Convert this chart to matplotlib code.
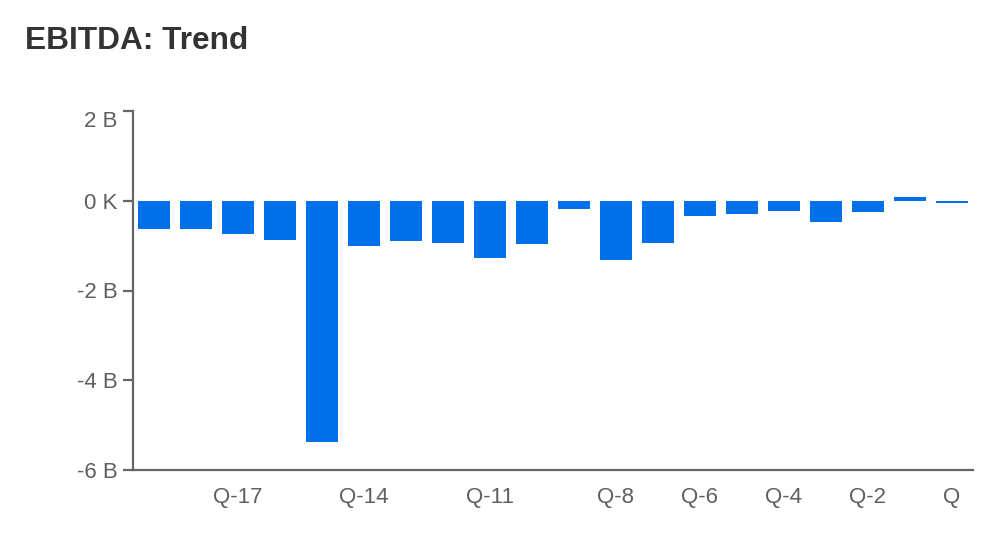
"""EBITDA trend: quarterly bar chart."""

import matplotlib
matplotlib.use("Agg")
import matplotlib.pyplot as plt
from matplotlib.ticker import FuncFormatter

# quarters, oldest first (Q-19 ... Q)
quarters = [f"Q-{n}" for n in range(19, 0, -1)] + ["Q"]
# EBITDA in billions
ebitda_b = [-0.63, -0.62, -0.75, -0.88, -5.38, -1.00, -0.89, -0.94, -1.27, -0.97,
            -0.19, -1.32, -0.95, -0.34, -0.30, -0.22, -0.47, -0.26, 0.08, -0.05]
shown_labels = ["Q-17", "Q-14", "Q-11", "Q-8", "Q-6", "Q-4", "Q-2", "Q"]
y_ticks_b = [-6, -4, -2, 0, 2]

BAR = "#0070e8"
AXIS = "#666666"
TEXT = "#5f5f5f"

plt.rcParams["font.family"] = ["Liberation Sans", "DejaVu Sans"]

fig = plt.figure(figsize=(10.03, 5.45), dpi=100)
ax = fig.add_axes([133 / 1003, 1 - 470 / 545, (973 - 133) / 1003, (470 - 111) / 545])

x = list(range(len(quarters)))
values = [v * 1e9 for v in ebitda_b]
ax.bar(x, values, width=0.76, color=BAR, zorder=2)

ax.set_xlim(-0.5, len(quarters) - 0.5)
ax.set_ylim(-6e9, 2e9)
ax.set_yticks([t * 1e9 for t in y_ticks_b])


def fmt(v, _pos):
    if v == 0:
        return "0 K"
    return f"{v / 1e9:.0f} B"


ax.yaxis.set_major_formatter(FuncFormatter(fmt))
ax.set_xticks([quarters.index(q) for q in shown_labels])
ax.set_xticklabels(shown_labels)

for side in ("top", "right"):
    ax.spines[side].set_visible(False)
for side in ("left", "bottom"):
    ax.spines[side].set_color(AXIS)
    ax.spines[side].set_linewidth(1.6)

ax.tick_params(axis="y", length=7, width=1.6, color=AXIS, pad=4,
               labelsize=16, labelcolor=TEXT)
ax.tick_params(axis="x", length=0, pad=12, labelsize=16, labelcolor=TEXT)

# the top label sits below its tick, inside the plot height
fig.canvas.draw()
ax.get_yticklabels()[-1].set_verticalalignment("top")

fig.text(25 / 1003, 1 - 49 / 545, "EBITDA: Trend", fontsize=22.8,
         fontweight="bold", color="#333333", va="baseline", ha="left")

fig.savefig("out.png", dpi=100)
